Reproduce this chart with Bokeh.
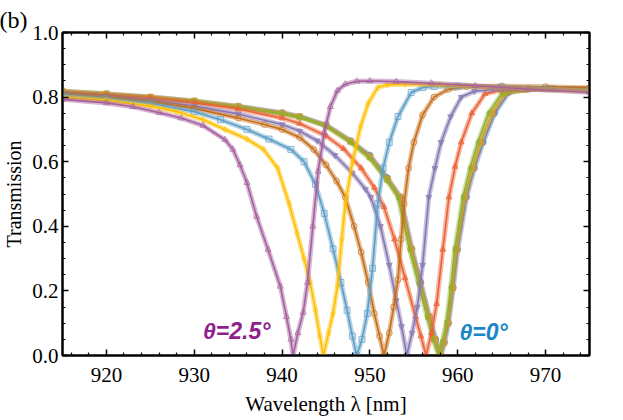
from bokeh.plotting import figure
from bokeh.models import LinearAxis, FixedTicker, PrintfTickFormatter, Label, ColumnDataSource, Title
from bokeh.embed import file_html
from bokeh.resources import INLINE

# ---------------- data ----------------
wl_blue = [915, 920, 925, 930, 935, 940, 942, 945, 947.8, 950, 952, 953.5, 954.8, 955.8, 956.8, 957.5, 958.1,
           958.5, 958.96, 959.5, 960.0, 961.0, 961.9, 962.9, 964.2, 965.8, 968, 971, 975]
tr_blue = [0.818, 0.81, 0.80, 0.788, 0.772, 0.752, 0.74, 0.714, 0.665, 0.62, 0.55, 0.49, 0.33, 0.226, 0.12, 0.05, 0.0,
           0.04, 0.10, 0.21, 0.328, 0.49, 0.58, 0.66, 0.75, 0.814, 0.824, 0.826, 0.826]

wl_orange = [915, 920, 925, 930, 935, 940, 942, 945, 947.8, 950, 952, 953.4, 954.7, 955.7, 956.7, 957.4, 958.0,
             958.4, 958.85, 959.4, 959.85, 960.8, 961.7, 962.6, 963.9, 965.4, 967.5, 970.5, 975]
tr_orange = [0.818, 0.81, 0.80, 0.788, 0.771, 0.75, 0.739, 0.712, 0.663, 0.615, 0.545, 0.49, 0.33, 0.226, 0.12, 0.05, 0.0,
             0.04, 0.10, 0.21, 0.328, 0.49, 0.58, 0.66, 0.75, 0.812, 0.823, 0.826, 0.826]

wl_green = [915, 920, 925, 930, 935, 940, 942.1, 945, 947.8, 950, 952, 953.2, 954.5, 955.5, 956.5, 957.2, 957.8,
            958.2, 958.7, 959.2, 959.65, 960.6, 961.4, 962.3, 963.5, 965.0, 967, 970, 975]
tr_green = [0.816, 0.808, 0.798, 0.786, 0.769, 0.748, 0.737, 0.71, 0.66, 0.61, 0.54, 0.49, 0.33, 0.226, 0.12, 0.05, 0.0,
            0.04, 0.10, 0.21, 0.328, 0.49, 0.58, 0.66, 0.75, 0.81, 0.822, 0.825, 0.826]

wl_red = [915, 920, 925, 930, 935, 940, 942, 945, 947, 949, 950.5, 951.6, 952.8, 954, 955.2, 955.8, 956.4,
          957.0, 957.6, 958.3, 959.0, 959.7, 960.4, 961.6, 963.1, 965, 968, 975]
tr_red = [0.814, 0.806, 0.797, 0.783, 0.763, 0.735, 0.718, 0.68, 0.64, 0.58, 0.52, 0.46, 0.36, 0.24, 0.12, 0.06, 0.0,
          0.07, 0.16, 0.328, 0.49, 0.585, 0.66, 0.75, 0.81, 0.822, 0.826, 0.826]

wl_purple = [915, 920, 925, 930, 935, 940, 942, 944, 946, 948, 949.5, 950.1, 951.2, 952.2, 953.0, 953.6, 954.2,
             954.8, 955.4, 956.0, 956.7, 957.4, 958.1, 959.2, 960.4, 961.9, 964, 968, 975]
tr_purple = [0.811, 0.802, 0.79, 0.772, 0.748, 0.715, 0.695, 0.665, 0.62, 0.565, 0.515, 0.49, 0.40, 0.28, 0.17, 0.09, 0.0,
             0.07, 0.15, 0.28, 0.49, 0.58, 0.66, 0.74, 0.80, 0.818, 0.824, 0.826, 0.825]

wl_brown = [915, 920, 925, 930, 935, 938, 940, 942, 943.6, 945, 946.2, 947.2, 948.2, 949, 949.8, 950.5, 951.1, 951.6,
            952.2, 952.7, 953.2, 953.55, 953.9, 954.4, 955.0, 956, 957.3, 958.9, 961, 965, 970, 975]
tr_brown = [0.81, 0.80, 0.786, 0.765, 0.735, 0.715, 0.70, 0.675, 0.638, 0.59, 0.54, 0.49, 0.40, 0.32, 0.226, 0.13, 0.06, 0.0,
            0.07, 0.15, 0.235, 0.36, 0.47, 0.58, 0.66, 0.745, 0.80, 0.824, 0.832, 0.834, 0.832, 0.828]

wl_lightblue = [915, 920, 925, 930, 933, 936, 938.5, 941, 942.5, 943.8, 944.8, 945.8, 946.7, 947.4, 948.0, 948.5,
                949.1, 949.7, 950.3, 950.9, 951.5, 952.2, 953.2, 954.7, 956, 957.3, 960, 965, 970, 975]
tr_lightblue = [0.806, 0.795, 0.78, 0.755, 0.73, 0.70, 0.67, 0.638, 0.60, 0.53, 0.44, 0.33, 0.226, 0.14, 0.06, 0.0,
                0.05, 0.13, 0.27, 0.47, 0.58, 0.66, 0.74, 0.814, 0.83, 0.833, 0.834, 0.831, 0.826, 0.82]

wl_yellow = [915, 920, 925, 928, 931, 933.5, 936, 937.9, 939.5, 940.8, 941.7, 942.5, 943.2, 943.8, 944.3, 944.7,
             945.3, 945.8, 946.3, 946.8, 947.2, 948.0, 948.95, 949.8, 950.9, 952, 954, 958, 963, 968, 975]
tr_yellow = [0.80, 0.79, 0.772, 0.755, 0.73, 0.70, 0.67, 0.638, 0.58, 0.47, 0.38, 0.30, 0.226, 0.14, 0.06, 0.0,
             0.07, 0.13, 0.215, 0.36, 0.47, 0.597, 0.71, 0.78, 0.83, 0.838, 0.84, 0.838, 0.832, 0.826, 0.818]

wl_magenta = [915, 920, 923, 926, 928.5, 931, 933.5, 934.4, 935.2, 936, 937.1, 938.4, 939.8, 940.5, 941.0, 941.25,
              941.8, 942.4, 942.9, 943.5, 944.1, 944.8, 945.5, 946.3, 947.2, 948.5, 950, 953, 957, 962, 968, 975]
tr_magenta = [0.793, 0.782, 0.77, 0.752, 0.735, 0.712, 0.668, 0.638, 0.59, 0.535, 0.43, 0.328, 0.214, 0.12, 0.05, 0.0,
              0.07, 0.133, 0.226, 0.40, 0.57, 0.69, 0.77, 0.82, 0.84, 0.849, 0.85, 0.848, 0.843, 0.835, 0.825, 0.815]

series = [
    (wl_blue, tr_blue, "#5E81B5", "circle", True),
    (wl_orange, tr_orange, "#E19C24", "square", True),
    (wl_green, tr_green, "#8FB032", "diamond", True),
    (wl_red, tr_red, "#EB6235", "triangle", True),
    (wl_purple, tr_purple, "#8778B3", "inverted_triangle", True),
    (wl_brown, tr_brown, "#C56E1A", "circle", False),
    (wl_lightblue, tr_lightblue, "#5D9EC7", "square", False),
    (wl_yellow, tr_yellow, "#FFBF00", "diamond", False),
    (wl_magenta, tr_magenta, "#A5609D", "triangle", False),
]

x_major = [920, 930, 940, 950, 960, 970]
x_minor = [916, 918, 922, 924, 926, 928, 932, 934, 936, 938, 942, 944, 946, 948,
           952, 954, 956, 958, 962, 964, 966, 968, 972, 974]
y_major = [0.0, 0.2, 0.4, 0.6, 0.8, 1.0]
y_minor = [0.05, 0.1, 0.15, 0.25, 0.3, 0.35, 0.45, 0.5, 0.55, 0.65, 0.7, 0.75, 0.85, 0.9, 0.95]

SERIF = "Liberation Serif"

p = figure(frame_width=527, frame_height=323, x_range=(915, 975), y_range=(0, 1),
           output_backend="svg", toolbar_location=None,
           min_border_left=55, min_border_right=25, min_border_top=32, min_border_bottom=62)
p.xgrid.visible = False
p.ygrid.visible = False
p.outline_line_color = "black"
p.outline_line_width = 2
p.background_fill_color = "white"
p.border_fill_color = "white"

for wl, tr, col, mk, filled in series:
    src = ColumnDataSource(dict(x=wl, y=tr))
    p.line("x", "y", source=src, line_color=col, line_width=5, line_alpha=0.45)
    p.line("x", "y", source=src, line_color=col, line_width=1.6)
    if filled:
        p.scatter("x", "y", source=src, marker=mk, size=6, fill_color=col, fill_alpha=0.6,
                  line_color=col, line_alpha=0.6)
    else:
        p.scatter("x", "y", source=src, marker=mk, size=6, fill_color=None,
                  line_color=col, line_alpha=0.7)

xt = LinearAxis(ticker=FixedTicker(ticks=x_major, minor_ticks=x_minor),
                major_label_overrides={t: "" for t in x_major})
p.add_layout(xt, "above")
yr = LinearAxis(ticker=FixedTicker(ticks=y_major, minor_ticks=y_minor),
                major_label_overrides={t: "" for t in y_major})
p.add_layout(yr, "right")

xb = p.below[0]
xb.ticker = FixedTicker(ticks=x_major, minor_ticks=x_minor)
xb.axis_label = "Wavelength λ [nm]"
yl = p.left[0]
yl.ticker = FixedTicker(ticks=y_major, minor_ticks=y_minor)
yl.formatter = PrintfTickFormatter(format="%.1f")
yl.axis_label = "Transmission"

for ax in [xb, yl, xt, yr]:
    ax.axis_line_width = 2
    ax.axis_line_color = "black"
    ax.major_tick_in = 6
    ax.major_tick_out = 0
    ax.minor_tick_in = 3
    ax.minor_tick_out = 0
    ax.major_tick_line_width = 1.5
    ax.minor_tick_line_width = 1.2
    ax.major_tick_line_color = "black"
    ax.minor_tick_line_color = "black"
    ax.major_label_text_font = SERIF
    ax.major_label_text_font_style = "normal"
    ax.major_label_text_font_size = "21px"
    ax.major_label_text_color = "black"
    ax.axis_label_text_font = SERIF
    ax.axis_label_text_font_style = "normal"
    ax.axis_label_text_color = "black"

xt.major_label_standoff = 0
yr.major_label_standoff = 0
xb.axis_label_text_font_size = "21px"
xb.major_label_standoff = 12
xb.axis_label_standoff = 7
yl.axis_label_text_font_size = "20px"
yl.major_label_standoff = 4
yl.axis_label_standoff = 4

p.add_layout(Label(x=931.0, y=0.077, text="θ=2.5°", text_color="#8E1F8C",
                   text_font="Liberation Sans", text_font_style="bold italic",
                   text_font_size="23px", text_baseline="middle", text_align="left"))
p.add_layout(Label(x=960.2, y=0.074, text="θ=0°", text_color="#1A86C8",
                   text_font="Liberation Sans", text_font_style="bold italic",
                   text_font_size="23px", text_baseline="middle", text_align="left"))

p.title = Title(text="(b)", align="left", offset=-63, text_font=SERIF, text_font_size="24px",
                text_font_style="normal", text_color="black", standoff=0)
p.title_location = "above"

open("out.html", "w").write(file_html(p, INLINE))
